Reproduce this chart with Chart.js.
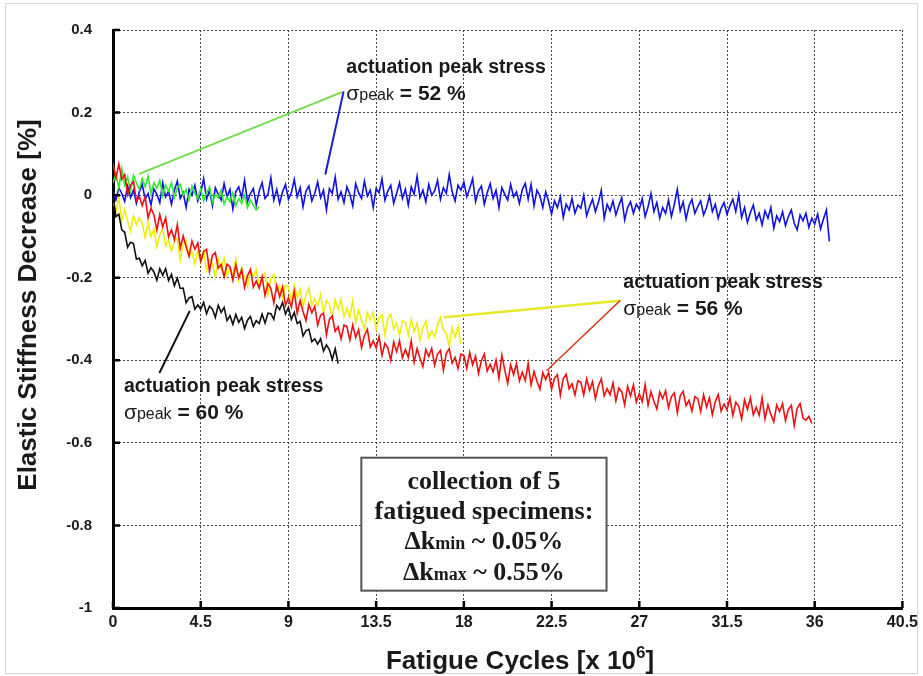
<!DOCTYPE html>
<html>
<head>
<meta charset="utf-8">
<script src="https://cdn.jsdelivr.net/npm/chart.js@4.4.0/dist/chart.umd.min.js"></script>
<style>
  body { margin: 0; background: #fff; }
  canvas { display: block; }
</style>
</head>
<body>
<canvas id="stiffnessChart" width="923" height="676"></canvas>
<script>
//DATA TO BE PLACED IN CHART
//sample spacing of the recorded curves [x 10^6 cycles]
const cycleStep = 0.15;
//axis ticks
const xTicks = [0, 4.5, 9, 13.5, 18, 22.5, 27, 31.5, 36, 40.5];
const yTicks = [-1, -0.8, -0.6, -0.4, -0.2, 0, 0.2, 0.4];

//elastic stiffness decrease [%] per specimen, one value every cycleStep
const blueDecrease = [
  0.010, -0.012, 0.018, 0.004, -0.015, 0.022, -0.006, 0.012, -0.020, 0.008,
  0.026, -0.010, 0.004, -0.024, 0.015, 0.002, -0.018, 0.030, -0.004, 0.010,
  -0.022, 0.012, 0.034, -0.008, 0.006, -0.030, 0.014, 0.000, 0.024, -0.014,
  0.006, 0.040, -0.010, 0.012, -0.026, 0.018, 0.002, -0.012, 0.028, -0.004,
  0.014, -0.034, 0.008, 0.020, -0.006, 0.036, -0.016, 0.004, 0.016, -0.024,
  0.010, 0.030, -0.008, 0.002, 0.042, -0.012, 0.014, -0.020, 0.008, 0.026,
  -0.010, 0.006, 0.038, -0.004, 0.018, -0.028, 0.010, 0.022, -0.014, 0.004,
  0.032, -0.006, 0.012, -0.036, 0.016, 0.004, 0.044, -0.010, 0.008, -0.018,
  0.020, 0.002, -0.026, 0.028, 0.006, -0.008, 0.034, -0.002, 0.012, -0.030,
  0.016, 0.006, 0.040, -0.012, 0.010, 0.024, -0.020, 0.004, 0.030, -0.008,
  0.014, -0.024, 0.020, 0.002, 0.046, -0.006, 0.012, -0.016, 0.026, 0.000,
  0.010, 0.036, -0.010, 0.018, 0.004, 0.050, 0.008, -0.014, 0.024, 0.012,
  0.032, -0.004, 0.016, 0.040, -0.016, 0.010, 0.022, -0.022, 0.006, 0.028,
  -0.008, 0.012, -0.030, 0.018, 0.002, -0.012, 0.026, -0.004, 0.008, -0.020,
  0.014, 0.028, -0.010, 0.026, -0.026, 0.012, -0.002, -0.030, 0.008, -0.016,
  -0.046, -0.014, -0.030, -0.004, -0.054, -0.022, -0.036, -0.008, -0.044, -0.024,
  -0.032, 0.000, -0.050, -0.028, -0.010, -0.040, -0.018, 0.012, -0.056, -0.022,
  -0.038, -0.014, -0.048, -0.026, -0.006, -0.060, -0.030, -0.016, -0.044, -0.022,
  -0.034, -0.008, -0.052, -0.028, 0.004, -0.040, -0.018, -0.056, -0.030, -0.044,
  -0.012, -0.052, -0.022, 0.014, -0.038, -0.016, -0.058, -0.026, -0.010, -0.044,
  -0.028, -0.014, -0.048, -0.030, -0.002, -0.040, -0.022, -0.056, -0.032, -0.018,
  -0.046, -0.026, -0.010, -0.040, 0.000, -0.054, -0.030, -0.066, -0.042, -0.024,
  -0.060, -0.044, -0.072, -0.038, -0.056, -0.030, -0.080, -0.050, -0.064, -0.040,
  -0.074, -0.052, -0.036, -0.068, -0.084, -0.048, -0.062, -0.044, -0.078, -0.056,
  -0.070, -0.046, -0.082, -0.058, -0.036, -0.112
];
const greenDecrease = [
  0.030, 0.052, 0.018, 0.064, 0.024, 0.044, 0.010, 0.048, 0.030, 0.014,
  0.040, 0.020, 0.046, 0.004, 0.030, 0.016, 0.036, -0.002, 0.024, 0.010,
  0.030, -0.006, 0.018, 0.026, 0.000, 0.014, -0.012, 0.022, 0.004, -0.008,
  0.016, -0.014, 0.006, 0.020, -0.018, 0.002, -0.006, 0.012, -0.022, -0.004,
  -0.016, 0.006, -0.026, -0.008, -0.020, 0.000, -0.030, -0.012, -0.024, -0.036, -0.028
];
const redDecrease = [
  0.077, 0.041, 0.075, 0.038, 0.050, 0.001, 0.024, 0.033, -0.014, -0.004,
  -0.025, -0.004, -0.055, -0.032, -0.048, -0.085, -0.047, -0.077, -0.055, -0.101,
  -0.084, -0.108, -0.072, -0.128, -0.099, -0.125, -0.148, -0.111, -0.131, -0.116,
  -0.160, -0.137, -0.131, -0.184, -0.146, -0.139, -0.177, -0.168, -0.198, -0.167,
  -0.173, -0.206, -0.169, -0.200, -0.181, -0.224, -0.195, -0.180, -0.223, -0.208,
  -0.225, -0.198, -0.243, -0.214, -0.226, -0.261, -0.219, -0.246, -0.222, -0.267,
  -0.249, -0.271, -0.233, -0.286, -0.256, -0.282, -0.304, -0.265, -0.285, -0.269,
  -0.315, -0.291, -0.286, -0.338, -0.301, -0.293, -0.330, -0.319, -0.348, -0.315,
  -0.318, -0.351, -0.314, -0.345, -0.326, -0.369, -0.340, -0.325, -0.368, -0.353,
  -0.370, -0.343, -0.388, -0.359, -0.370, -0.400, -0.356, -0.379, -0.353, -0.394,
  -0.374, -0.393, -0.353, -0.404, -0.372, -0.395, -0.415, -0.374, -0.391, -0.371,
  -0.412, -0.385, -0.376, -0.424, -0.383, -0.372, -0.407, -0.393, -0.420, -0.385,
  -0.388, -0.420, -0.381, -0.411, -0.390, -0.432, -0.401, -0.385, -0.426, -0.410,
  -0.428, -0.400, -0.444, -0.388, -0.424, -0.456, -0.411, -0.435, -0.408, -0.450,
  -0.429, -0.449, -0.408, -0.460, -0.427, -0.451, -0.470, -0.430, -0.447, -0.429,
  -0.470, -0.444, -0.435, -0.485, -0.444, -0.434, -0.469, -0.457, -0.484, -0.450,
  -0.453, -0.484, -0.445, -0.473, -0.452, -0.493, -0.462, -0.445, -0.486, -0.469,
  -0.484, -0.455, -0.498, -0.467, -0.476, -0.508, -0.463, -0.486, -0.460, -0.501,
  -0.481, -0.500, -0.459, -0.509, -0.476, -0.499, -0.518, -0.477, -0.493, -0.474,
  -0.515, -0.488, -0.479, -0.527, -0.486, -0.475, -0.510, -0.497, -0.523, -0.488,
  -0.493, -0.524, -0.484, -0.513, -0.491, -0.532, -0.500, -0.483, -0.523, -0.506,
  -0.520, -0.491, -0.534, -0.502, -0.511, -0.542, -0.496, -0.519, -0.491, -0.532,
  -0.514, -0.533, -0.491, -0.542, -0.508, -0.531, -0.549, -0.508, -0.524, -0.505,
  -0.546, -0.519, -0.509, -0.558, -0.516, -0.505, -0.540, -0.545, -0.536, -0.553
];
const yellowDecrease = [
  -0.014, -0.040, -0.005, -0.063, -0.035, -0.063, -0.087, -0.050, -0.071, -0.055,
  -0.068, -0.103, -0.067, -0.100, -0.082, -0.125, -0.096, -0.081, -0.123, -0.108,
  -0.135, -0.111, -0.105, -0.156, -0.118, -0.110, -0.148, -0.137, -0.167, -0.135,
  -0.163, -0.136, -0.182, -0.154, -0.166, -0.199, -0.155, -0.179, -0.153, -0.195,
  -0.174, -0.194, -0.155, -0.207, -0.175, -0.199, -0.220, -0.180, -0.198, -0.180,
  -0.223, -0.197, -0.189, -0.240, -0.201, -0.193, -0.231, -0.220, -0.250, -0.218,
  -0.223, -0.255, -0.218, -0.248, -0.228, -0.270, -0.241, -0.225, -0.267, -0.251,
  -0.268, -0.240, -0.284, -0.255, -0.265, -0.297, -0.253, -0.277, -0.252, -0.294,
  -0.274, -0.295, -0.256, -0.309, -0.278, -0.303, -0.324, -0.285, -0.302, -0.283,
  -0.325, -0.298, -0.290, -0.339, -0.299, -0.288, -0.324, -0.311, -0.339, -0.304,
  -0.308, -0.340, -0.301, -0.331, -0.310, -0.352, -0.321, -0.305, -0.346, -0.329,
  -0.343, -0.314, -0.296, -0.326, -0.335, -0.366, -0.321, -0.344, -0.318, -0.360
];
const blackDecrease = [
  -0.002, -0.052, -0.046, -0.084, -0.090, -0.126, -0.114, -0.117, -0.155, -0.153,
  -0.171, -0.158, -0.189, -0.176, -0.186, -0.206, -0.178, -0.194, -0.178, -0.207,
  -0.192, -0.219, -0.201, -0.226, -0.225, -0.261, -0.249, -0.246, -0.276, -0.266,
  -0.276, -0.260, -0.287, -0.269, -0.276, -0.296, -0.267, -0.284, -0.272, -0.304,
  -0.292, -0.313, -0.289, -0.308, -0.296, -0.323, -0.303, -0.294, -0.318, -0.304,
  -0.311, -0.288, -0.310, -0.286, -0.287, -0.301, -0.267, -0.277, -0.260, -0.288,
  -0.272, -0.301, -0.284, -0.311, -0.306, -0.341, -0.328, -0.325, -0.355, -0.348,
  -0.361, -0.348, -0.378, -0.363, -0.374, -0.398, -0.372, -0.408
];

//peak stress of each group of specimens
const peakLabels = ['52 %', '56 %', '60 %'];
const boxLines = ['collection of 5', 'fatigued specimens:'];
const deltaK = [['min', '0.05%'], ['max', '0.55%']];

//CHART DATA
const toPoints = arr => arr.map((v, i) => ({ x: +(i * cycleStep).toFixed(2), y: v }));
const line = (data, color) => ({
  data: toPoints(data),
  borderColor: color,
  borderWidth: 1.6,
  pointRadius: 0,
  tension: 0,
});

//first dataset is drawn on top
const dataStiffness = {
  datasets: [
    line(blackDecrease, '#111111'),
    line(redDecrease, '#ee1111'),
    line(yellowDecrease, '#eeee10'),
    line(greenDecrease, '#33e833'),
    line(blueDecrease, '#1212e0'),
  ]
};

//helpers for the drawn text
function drawRuns(ctx, runs, x, y, center) {
  let total = 0;
  runs.forEach(r => { ctx.font = r.font; r.w = ctx.measureText(r.text).width; total += r.w; });
  let cx = center ? x - total / 2 : x;
  runs.forEach(r => {
    ctx.font = r.font;
    ctx.fillText(r.text, cx, y - (r.rise || 0));
    cx += r.w;
  });
}

//annotations: leader lines, labels and the summary box
const notesPlugin = {
  id: 'notes',
  afterDatasetsDraw(chart) {
    const { ctx, scales: { x, y } } = chart;
    const px = v => x.getPixelForValue(v);
    const py = v => y.getPixelForValue(v);
    ctx.save();
    ctx.lineCap = 'round';
    const seg = (x1, y1, x2, y2, color, w) => {
      ctx.strokeStyle = color;
      ctx.lineWidth = w;
      ctx.beginPath();
      ctx.moveTo(px(x1), py(y1));
      ctx.lineTo(px(x2), py(y2));
      ctx.stroke();
    };
    seg(1.38, 0.052, 11.72, 0.249, '#72dc4c', 2);
    seg(10.9, 0.052, 11.82, 0.249, '#1c1cc8', 2);
    seg(17.02, -0.296, 26.0, -0.256, '#e8e82a', 2.5);
    seg(22.27, -0.424, 26.0, -0.256, '#d8401c', 1.5);
    seg(3.92, -0.282, 2.4, -0.429, '#111111', 2);

    ctx.fillStyle = '#1a1a1a';
    ctx.textBaseline = 'alphabetic';
    ctx.textAlign = 'left';
    const peakNote = (xv, yv, pct) => {
      const left = px(xv), base = py(yv);
      ctx.font = 'bold 19.5px Arial, "Liberation Sans", sans-serif';
      ctx.fillText('actuation peak stress', left, base);
      drawRuns(ctx, [
        { text: 'σ', font: '21px Arial, "Liberation Sans", sans-serif' },
        { text: 'peak', font: '16px Arial, "Liberation Sans", sans-serif' },
        { text: ' = ' + pct, font: 'bold 21px Arial, "Liberation Sans", sans-serif' },
      ], left, base + 27, false);
    };
    peakNote(11.97, 0.296, peakLabels[0]);
    peakNote(26.18, -0.225, peakLabels[1]);
    peakNote(0.56, -0.476, peakLabels[2]);

    //summary box
    const bx = px(12.74), by = py(-0.636);
    const bw = px(25.32) - bx, bh = py(-0.958) - by;
    ctx.fillStyle = '#ffffff';
    ctx.fillRect(bx, by, bw, bh);
    ctx.strokeStyle = '#555555';
    ctx.lineWidth = 2;
    ctx.strokeRect(bx, by, bw, bh);
    ctx.fillStyle = '#1a1a1a';
    const cx = px(19.03);
    const serif = s => 'bold ' + s + 'px "Liberation Serif", "Times New Roman", serif';
    drawRuns(ctx, [{ text: boxLines[0], font: serif(26) }], cx, py(-0.712), true);
    drawRuns(ctx, [{ text: boxLines[1], font: serif(26) }], cx, py(-0.785), true);
    [-0.856, -0.932].forEach((yv, i) => {
      drawRuns(ctx, [
        { text: 'Δk', font: serif(26) },
        { text: deltaK[i][0], font: serif(18) },
        { text: ' ~ ' + deltaK[i][1], font: serif(26) },
      ], cx, py(yv), true);
    });
    ctx.restore();
  }
};

//frame, inward ticks and axis titles
const framePlugin = {
  id: 'frame',
  beforeDraw(chart) {
    const { ctx, width, height } = chart;
    ctx.save();
    ctx.fillStyle = '#ffffff';
    ctx.fillRect(0, 0, width, height);
    ctx.strokeStyle = '#d6d6d6';
    ctx.lineWidth = 1;
    ctx.strokeRect(5.5, 3.5, width - 11, height - 6);
    ctx.restore();
  },
  afterDraw(chart) {
    const { ctx, chartArea: area, scales: { x, y } } = chart;
    ctx.save();
    ctx.strokeStyle = '#000000';
    ctx.lineWidth = 2.5;
    ctx.beginPath();
    xTicks.forEach(v => {
      const p = x.getPixelForValue(v);
      ctx.moveTo(p, area.bottom);
      ctx.lineTo(p, area.bottom - 7);
    });
    yTicks.forEach(v => {
      const p = y.getPixelForValue(v);
      ctx.moveTo(area.left, p);
      ctx.lineTo(area.left + 7, p);
    });
    ctx.stroke();

    ctx.fillStyle = '#1a1a1a';
    ctx.textBaseline = 'alphabetic';
    ctx.textAlign = 'left';
    drawRuns(ctx, [
      { text: 'Fatigue Cycles [x 10', font: 'bold 26px Arial, "Liberation Sans", sans-serif' },
      { text: '6', font: 'bold 17px Arial, "Liberation Sans", sans-serif', rise: 11 },
      { text: ']', font: 'bold 26px Arial, "Liberation Sans", sans-serif' },
    ], 520, 669, true);

    ctx.translate(36, 305);
    ctx.rotate(-Math.PI / 2);
    drawRuns(ctx, [
      { text: 'Elastic Stiffness Decrease [%]', font: 'bold 26px Arial, "Liberation Sans", sans-serif' },
    ], 0, 0, true);
    ctx.restore();
  }
};

//options
const optionStiffness = {
  responsive: false,
  animation: false,
  devicePixelRatio: 1,
  layout: { padding: { left: 0, right: 15, top: 16, bottom: 0 } },
  plugins: {
    legend: { display: false },
    tooltip: { enabled: false },
  },
  scales: {
    x: {
      type: 'linear',
      min: 0,
      max: 40.5,
      afterBuildTicks: s => { s.ticks = xTicks.map(v => ({ value: v })); },
      afterFit: s => { s.height = 68; },
      grid: { color: '#444444', lineWidth: 1, drawTicks: false },
      border: { display: true, color: '#000000', width: 3, dash: [2, 2] },
      ticks: {
        padding: 5,
        color: '#1a1a1a',
        font: { family: 'Arial, "Liberation Sans", sans-serif', size: 16, weight: 'bold' },
        maxRotation: 0,
        autoSkip: false,
        callback: v => String(v),
      },
    },
    y: {
      type: 'linear',
      min: -1,
      max: 0.4,
      afterBuildTicks: s => { s.ticks = yTicks.map(v => ({ value: v })); },
      afterFit: s => { s.width = 113; },
      grid: { color: '#444444', lineWidth: 1, drawTicks: false },
      border: { display: true, color: '#000000', width: 3, dash: [2, 2] },
      ticks: {
        padding: 21,
        color: '#1a1a1a',
        font: { family: 'Arial, "Liberation Sans", sans-serif', size: 15, weight: 'bold' },
        autoSkip: false,
        callback: v => String(v),
      },
    },
  },
};

//config
const configStiffness = {
  type: 'line',
  data: dataStiffness,
  options: optionStiffness,
  plugins: [framePlugin, notesPlugin],
};

//render
const stiffnessChart = new Chart(
  document.getElementById('stiffnessChart').getContext('2d'),
  configStiffness
);
</script>
</body>
</html>
